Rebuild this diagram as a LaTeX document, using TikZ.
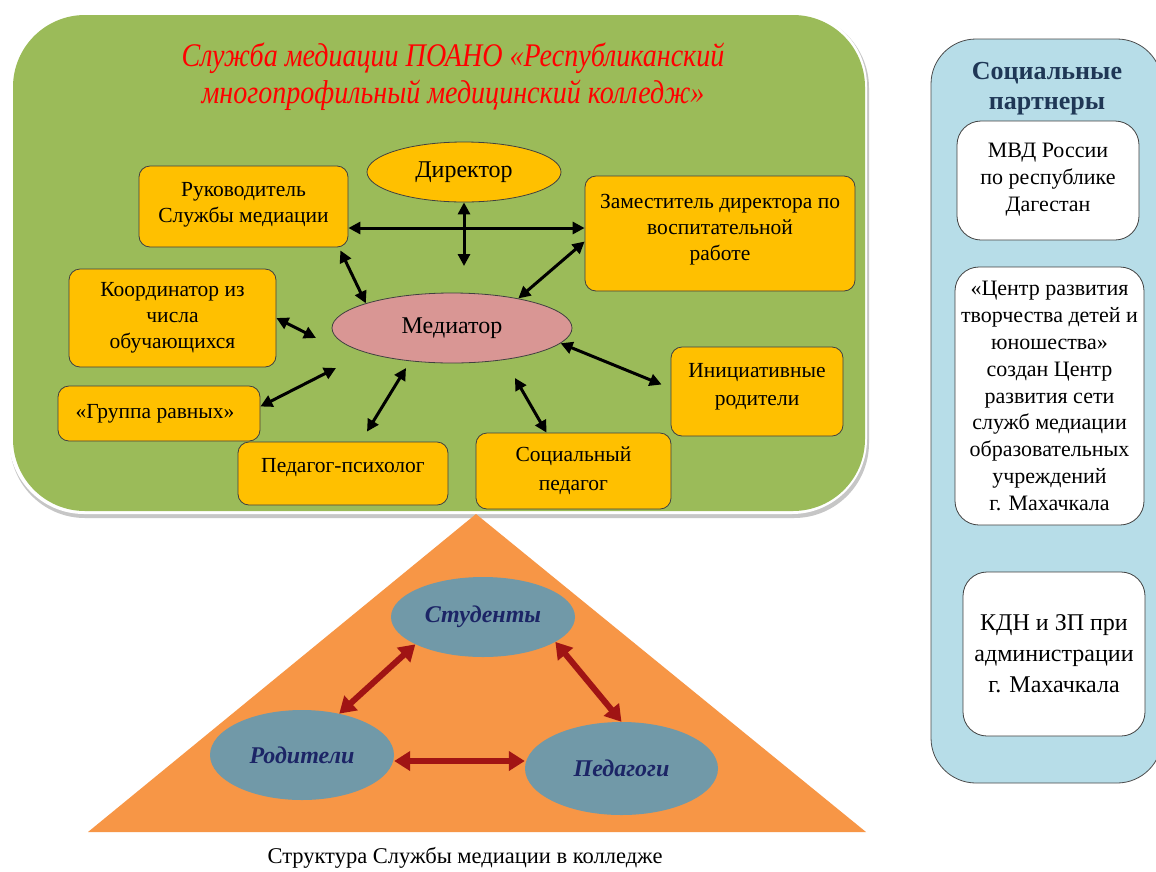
\documentclass[tikz,border=0pt]{standalone}
\usepackage{fontspec}
\setmainfont{Liberation Serif}
\newfontfamily\tnr{Liberation Serif}[OpticalSize=0]
\usetikzlibrary{arrows.meta,shapes.geometric,calc}
\definecolor{grn}{HTML}{9BBB59}
\definecolor{org}{HTML}{FFC000}
\definecolor{pnk}{HTML}{D99694}
\definecolor{blu}{HTML}{B7DDE8}
\definecolor{tri}{HTML}{F79646}
\definecolor{stl}{HTML}{7199A8}
\definecolor{navy}{HTML}{1C2566}
\definecolor{dred}{HTML}{A01414}
\definecolor{ttl}{HTML}{1F3756}
\newcommand\fsz[2]{\tnr\fontsize{#1}{#2}\selectfont}
\tikzset{
  obox/.style={draw=black!75, line width=0.8pt, fill=org, rounded corners=11pt, align=center, inner sep=0pt, font=\fsz{21.5}{26}},
  wbox/.style={draw=black!75, line width=0.8pt, fill=white, rounded corners=24pt, align=center, inner sep=0pt},
  oell/.style={ellipse, draw=black!75, line width=0.8pt, inner sep=0pt, font=\fsz{24}{26}},
  tell/.style={ellipse, fill=stl, inner sep=0pt, font=\fsz{24}{30}\bfseries\itshape, text=navy},
  blk/.style={line width=3pt, {Triangle[length=12pt,width=12pt]}-{Triangle[length=12pt,width=12pt]}},
  redar/.style={line width=6pt, draw=dred, {Triangle[length=16pt,width=19pt]}-{Triangle[length=16pt,width=19pt]}}
}
\begin{document}
\begin{tikzpicture}[x=1pt,y=-1pt]
\useasboundingbox (0,0) rectangle (1156,871);
\fill[white] (0,0) rectangle (1156,871);
% green area
\fill[gray!45, rounded corners=75pt] (10,13) rectangle (869,518);
\fill[white, rounded corners=75pt] (9,11) rectangle (867,514);
\fill[grn, rounded corners=72pt] (13,15) rectangle (865,511);
\begin{scope}[shift={(453,77)}]
\node[text=red, align=center, font=\fsz{33}{37}\itshape, xscale=0.85, transform shape] (title) at (0,0) {Служба медиации ПОАНО «Республиканский\\многопрофильный медицинский колледж»};
\end{scope}
% nodes
\node[obox, minimum width=209pt, minimum height=81pt] (ruk) at (243.5,206.5) {Руководитель\\Службы медиации\\[-18pt]};
\node[obox, minimum width=270pt, minimum height=115pt] (zam) at (720,233.5) {Заместитель директора по\\воспитательной\\работе\\[-14pt]};
\node[obox, minimum width=207pt, minimum height=98pt] (koord) at (172.5,318) {Координатор из\\числа\\обучающихся};
\node[obox, minimum width=202pt, minimum height=55pt] (grp) at (159,413.5) {«Группа равных»\hspace*{8pt}};
\node[obox, minimum width=210pt, minimum height=63pt] (psy) at (343,473.5) {Педагог-психолог\\[-9pt]};
\node[obox, minimum width=195pt, minimum height=76pt, font=\fsz{21.5}{29}] (soc) at (573.5,471) {Социальный\\педагог};
\node[obox, minimum width=172pt, minimum height=89pt, font=\fsz{21.5}{28}] (ini) at (757,391.5) {Инициативные\\родители\\[-13pt]};
\node[oell, fill=org, minimum width=194pt, minimum height=60pt] (dir) at (464,172) {Директор};
\node[oell, fill=pnk, minimum width=240pt, minimum height=70pt] (med) at (452,328) {Медиатор};
% free ends
\coordinate (vEnd) at (464,266);
\coordinate (kEnd) at (316,338);
\coordinate (gEnd) at (336,368);
\coordinate (pEnd) at (406,368);
\coordinate (sEnd) at (515,378);
% black arrows
\draw[blk] (ruk.east |- 0,228) -- (zam.west |- 0,228);
\draw[blk] (dir.south) -- (vEnd);
\draw[blk] ([xshift=-8pt,yshift=-3pt]ruk.south east) -- (med.164);
\draw[blk] ([yshift=-8pt]zam.west) -- (med.24);
\draw[blk] (koord.east) -- (kEnd);
\draw[blk] ([yshift=7pt]grp.east) -- (gEnd);
\draw[blk] ([xshift=24pt,yshift=10pt]psy.north) -- (pEnd);
\draw[blk] (sEnd) -- ([xshift=-27pt]soc.north);
\draw[blk] (med.-8) -- ([yshift=7pt,xshift=-9pt]ini.west);
% right panel
\draw[fill=blu, draw=black!70, line width=0.8pt, rounded corners=45pt] (931,39) rectangle (1162,783);
\node[align=center, text=ttl, font=\fsz{26}{30}\bfseries] (part) at (1047,89) {Социальные\\партнеры};
\node[wbox, minimum width=182pt, minimum height=119pt, font=\fsz{22}{27}] (mvd) at (1048,180.5) {МВД России\\по республике\\Дагестан\\[-20pt]};
\node[wbox, minimum width=189pt, minimum height=258pt, font=\fsz{22}{26.9}] (crt) at (1049.5,396) {«Центр развития\\творчества детей и\\юношества»\\создан Центр\\развития сети\\служб медиации\\образовательных\\учреждений\\г. Махачкала};
\node[wbox, minimum width=182pt, minimum height=164pt, font=\fsz{24}{31}] (kdn) at (1054,654) {КДН и ЗП при\\администрации\\г. Махачкала};
% triangle
\fill[tri] (476,514) -- (866,832) -- (88,832) -- cycle;
\node[tell, minimum width=184pt, minimum height=80pt] (stud) at (483,617) {Студенты};
\node[tell, minimum width=184pt, minimum height=90pt] (rod) at (302,755) {Родители};
\node[tell, minimum width=193pt, minimum height=93pt] (ped) at (621.5,768.5) {Педагоги};
\draw[redar] (stud.202) -- (rod.48);
\draw[redar] (stud.-19) -- (ped.north);
\draw[redar] ($(rod.east)+(0,6)$) -- ($(rod.east -| ped.west)+(0,6)$);
\node[font=\fsz{22.5}{26}] (cap) at (465,858) {Структура Службы медиации в колледже};
\end{tikzpicture}
\end{document}
